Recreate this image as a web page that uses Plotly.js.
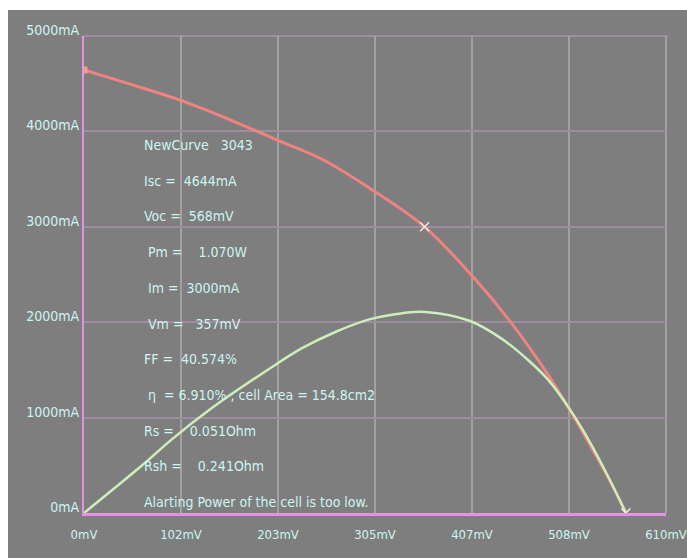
<!DOCTYPE html>
<html>
<head>
<meta charset="utf-8">
<script src="https://cdn.plot.ly/plotly-3.0.1.min.js"></script>
<style>
  html, body { margin: 0; padding: 0; background: #ffffff; width: 687px; height: 558px; overflow: hidden; }
  #chart { position: absolute; left: 8px; top: 10px; width: 679px; height: 548px; }
</style>
</head>
<body>
<div id="chart"></div>
<script>
// I-V curve (red): voltage in mV, current in mA
const ivVoltage = [0, 50, 100, 150, 200, 250, 300, 357, 410, 445, 487, 508, 530, 550, 568];
const ivCurrent = [4644, 4490, 4330, 4135, 3920, 3705, 3400, 3000, 2450, 2030, 1440, 1100, 720, 360, 0];

// Power curve (green), drawn on the mA scale
const pVoltage = [0, 61, 93, 134, 194, 229, 264, 299, 334, 358, 404, 438, 466, 487, 508, 529, 550, 568];
const pValue = [0, 500, 780, 1100, 1510, 1730, 1900, 2030, 2095, 2108, 2015, 1825, 1598, 1390, 1105, 765, 370, 0];

// Marked points
const markVoltage = [357, 568];
const markCurrent = [3000, 0];
const startVoltage = [0];
const startCurrent = [4644];

// Ticks
const xTickVals = [0, 101.67, 203.33, 305, 406.67, 508.33, 610];
const xTickText = ['0mV', '102mV', '203mV', '305mV', '407mV', '508mV', '610mV'];
const yTickVals = [0, 1000, 2000, 3000, 4000, 5000];
const yTickText = ['0mA', '1000mA', '2000mA', '3000mA', '4000mA', '5000mA'];

// Info text lines
const infoLines = [
  'NewCurve\u00a0\u00a0\u00a03043',
  'Isc =\u00a0\u00a04644mA',
  'Voc =\u00a0\u00a0568mV',
  '\u00a0Pm =\u00a0\u00a0\u00a0\u00a01.070W',
  '\u00a0Im =\u00a0\u00a03000mA',
  '\u00a0Vm =\u00a0\u00a0\u00a0357mV',
  'FF =\u00a0\u00a040.574%',
  '\u00a0η\u00a0 = 6.910% , cell Area = 154.8cm2',
  'Rs =\u00a0\u00a0\u00a0\u00a00.051Ohm',
  'Rsh =\u00a0\u00a0\u00a0\u00a00.241Ohm',
  'Alarting Power of the cell is too low.'
];

const FONT = '"DejaVu Sans Condensed", "Liberation Sans", sans-serif';
const TXT = '#cdf4f2';

// layout geometry (plot area inside the div)
const plotTop = 26, plotH = 477, plotLeft = 76, plotW = 582;
const textX = 142 - 8;      // div px
const firstLineY = 145 - 10; // div px
const lineStep = 35.7;

const annotations = infoLines.map((t, i) => ({
  xref: 'paper', yref: 'paper',
  x: (textX - plotLeft) / plotW,
  y: 1 - ((firstLineY + i * lineStep) - plotTop) / plotH,
  xanchor: 'left', yanchor: 'middle',
  text: t, showarrow: false,
  font: { family: FONT, size: 14, color: TXT }
}));

const traces = [
  {
    x: ivVoltage, y: ivCurrent, type: 'scatter', mode: 'lines',
    line: { color: '#f08282', width: 3, shape: 'spline', smoothing: 1.0 },
    hoverinfo: 'skip'
  },
  {
    x: pVoltage, y: pValue, type: 'scatter', mode: 'lines',
    line: { color: '#cdeebb', width: 2.5, shape: 'spline', smoothing: 1.0 },
    hoverinfo: 'skip'
  },
  {
    x: markVoltage, y: markCurrent, type: 'scatter', mode: 'markers',
    marker: { symbol: 'x-thin-open', size: 9, color: '#f4e8e0', line: { color: '#f4e8e0', width: 1.5 } },
    hoverinfo: 'skip'
  },
  {
    x: startVoltage, y: startCurrent, type: 'scatter', mode: 'markers',
    marker: { symbol: 'square', size: 7, color: '#f0a080' },
    hoverinfo: 'skip'
  }
];

const layout = {
  width: 679, height: 548,
  margin: { l: plotLeft, r: 679 - plotLeft - plotW, t: plotTop, b: 548 - plotTop - plotH, pad: 0 },
  paper_bgcolor: '#7e7e7e',
  plot_bgcolor: '#7e7e7e',
  showlegend: false,
  font: { family: FONT, size: 14, color: TXT },
  xaxis: {
    range: [0, 610], tickvals: xTickVals, ticktext: xTickText,
    showgrid: true, gridcolor: '#a2a2a2', gridwidth: 2,
    zeroline: false, showline: true, linecolor: '#e690e6', linewidth: 3,
    ticks: '', tickfont: { family: FONT, size: 13, color: TXT },
    ticklabelstandoff: 7, ticklabeloverflow: 'allow', fixedrange: true
  },
  yaxis: {
    range: [0, 5000], tickvals: yTickVals, ticktext: yTickText,
    showgrid: true, gridcolor: '#a08ca0', gridwidth: 2,
    zeroline: false, showline: true, linecolor: '#e690e6', linewidth: 2,
    ticks: '', tickfont: { family: FONT, size: 14, color: TXT },
    ticklabelshift: -6, ticklabelstandoff: 0, fixedrange: true
  },
  shapes: [
    { type: 'line', xref: 'paper', yref: 'paper', x0: 0, x1: 1.003, y0: 1, y1: 1,
      line: { color: '#a08ca0', width: 2 }, layer: 'below' },
    { type: 'line', xref: 'paper', yref: 'paper', x0: 1, x1: 1, y0: 0, y1: 1,
      line: { color: '#a2a2a2', width: 2 }, layer: 'below' }
  ],
  annotations: annotations
};

Plotly.newPlot('chart', traces, layout, { displayModeBar: false, staticPlot: true });
</script>
</body>
</html>
